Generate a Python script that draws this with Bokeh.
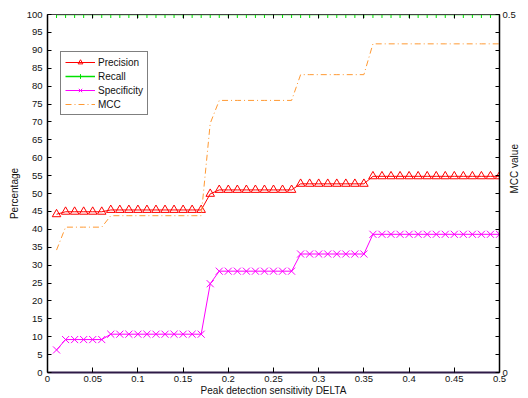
from bokeh.plotting import figure
from bokeh.models import (Range1d, LinearAxis, FixedTicker, CustomJSTickFormatter,
                          Legend, LegendItem)
from bokeh.embed import file_html
from bokeh.resources import INLINE

# Peak detection sensitivity (DELTA) grid
delta = [round(0.01 * k, 2) for k in range(1, 51)]

precision = [44.2, 44.9, 44.9, 44.9, 44.9, 44.9, 45.4, 45.4, 45.4, 45.4,
             45.4, 45.4, 45.4, 45.4, 45.4, 45.4, 45.4, 49.9, 51.0, 51.0,
             51.0, 51.0, 51.0, 51.0, 51.0, 51.0, 51.0, 52.7, 52.7, 52.7,
             52.7, 52.7, 52.7, 52.7, 52.7, 54.8, 54.8, 54.8, 54.8, 54.8,
             54.8, 54.8, 54.8, 54.8, 54.8, 54.8, 54.8, 54.8, 54.8, 54.8]

recall = [100.0] * 50

specificity = [6.3, 9.2, 9.2, 9.2, 9.2, 9.2, 10.7, 10.7, 10.7, 10.7,
               10.7, 10.7, 10.7, 10.7, 10.7, 10.7, 10.7, 24.8, 28.3, 28.3,
               28.3, 28.3, 28.3, 28.3, 28.3, 28.3, 28.3, 33.1, 33.1, 33.1,
               33.1, 33.1, 33.1, 33.1, 33.1, 38.6, 38.6, 38.6, 38.6, 38.6,
               38.6, 38.6, 38.6, 38.6, 38.6, 38.6, 38.6, 38.6, 38.6, 38.6]

mcc = [0.171, 0.203, 0.203, 0.203, 0.203, 0.203, 0.219, 0.219, 0.219, 0.219,
       0.219, 0.219, 0.219, 0.219, 0.219, 0.219, 0.219, 0.348, 0.380, 0.380,
       0.380, 0.380, 0.380, 0.380, 0.380, 0.380, 0.380, 0.416, 0.416, 0.416,
       0.416, 0.416, 0.416, 0.416, 0.416, 0.459, 0.459, 0.459, 0.459, 0.459,
       0.459, 0.459, 0.459, 0.459, 0.459, 0.459, 0.459, 0.459, 0.459, 0.459]

x_ticks = [0, 0.05, 0.1, 0.15, 0.2, 0.25, 0.3, 0.35, 0.4, 0.45, 0.5]
y_ticks = list(range(0, 101, 5))
mcc_ticks = [round(0.025 * k, 3) for k in range(0, 21)]

FONT = "Liberation Sans"
TXT = "#111111"

p = figure(width=528, height=398, output_backend="svg", toolbar_location=None,
           x_range=Range1d(0, 0.5), y_range=Range1d(0, 100),
           x_axis_location=None, y_axis_location=None,
           min_border_left=47, min_border_right=28,
           min_border_top=14, min_border_bottom=26)
p.extra_y_ranges = {"mcc": Range1d(0, 0.5)}
p.xgrid.visible = False
p.ygrid.visible = False
p.outline_line_color = None
p.background_fill_color = "white"
p.border_fill_color = "white"


def style_axis(ax, tick_in):
    ax.major_tick_in = tick_in
    ax.major_tick_out = 0
    ax.minor_tick_line_color = None
    ax.major_label_text_font = FONT
    ax.major_label_text_font_size = "9.5px"
    ax.major_label_text_color = TXT
    ax.axis_line_color = "#000000"
    ax.major_tick_line_color = "#000000"
    ax.axis_label_text_font = FONT
    ax.axis_label_text_font_size = "10px"
    ax.axis_label_text_font_style = "normal"
    ax.axis_label_text_color = TXT


bottom = LinearAxis(ticker=FixedTicker(ticks=x_ticks),
                    formatter=CustomJSTickFormatter(code="return Number(tick.toFixed(2)).toString();"),
                    axis_label="Peak detection sensitivity DELTA")
style_axis(bottom, 5)
bottom.axis_line_color = "#2e1a47"
bottom.axis_line_width = 2
bottom.major_label_standoff = 3
bottom.axis_label_standoff = 0
p.add_layout(bottom, "below")

top = LinearAxis(ticker=FixedTicker(ticks=x_ticks),
                 formatter=CustomJSTickFormatter(code="return '';"))
style_axis(top, 4)
top.axis_line_color = "#444444"
top.major_label_standoff = 0
top.major_label_text_font_size = "0px"
p.add_layout(top, "above")

left = LinearAxis(ticker=FixedTicker(ticks=y_ticks), axis_label="Percentage")
style_axis(left, 4)
left.axis_line_width = 1.5
left.major_label_standoff = 5
left.axis_label_standoff = 4
p.add_layout(left, "left")

right = LinearAxis(y_range_name="mcc", ticker=FixedTicker(ticks=mcc_ticks),
                   formatter=CustomJSTickFormatter(code="""
                       if (Math.abs(tick) < 1e-9) return '0';
                       if (Math.abs(tick - 0.5) < 1e-9) return '0.5';
                       return '';"""),
                   axis_label="MCC value")
style_axis(right, 4)
right.axis_line_width = 1.5
right.major_label_standoff = 3
right.axis_label_standoff = -4
right.axis_label_orientation = 1.5708
p.add_layout(right, "right")

# Percentage series
pr_l = p.line(delta, precision, line_color="#ff0000", line_width=1)
pr_m = p.scatter(delta, precision, marker="triangle", size=8.5,
                 line_color="#ff0000", fill_color=None, line_width=1)

re_l = p.line(delta, recall, line_color="#00e000", line_width=1.5)
re_m = p.scatter(delta, recall, marker="cross", size=7,
                 line_color="#00e000", line_width=1)

sp_l = p.line(delta, specificity, line_color="#ff00ff", line_width=1)
sp_m = p.scatter(delta, specificity, marker="x", size=10,
                 line_color="#ff00ff", line_width=1)

# MCC on the secondary axis
mc_l = p.line(delta, mcc, y_range_name="mcc", line_color="#ff9933",
              line_width=1, line_dash="6 3 1 3")

legend = Legend(items=[
    LegendItem(label="Precision", renderers=[pr_l, pr_m]),
    LegendItem(label="Recall", renderers=[re_l, re_m]),
    LegendItem(label="Specificity", renderers=[sp_l, sp_m]),
    LegendItem(label="MCC", renderers=[mc_l]),
], location=(13, 257))
legend.label_text_font = FONT
legend.label_text_font_size = "10px"
legend.label_text_color = TXT
legend.glyph_width = 30
legend.glyph_height = 12
legend.label_height = 12
legend.label_standoff = 3
legend.spacing = 2
legend.padding = 4
legend.margin = 0
legend.border_line_color = "#000000"
legend.border_line_width = 1
legend.background_fill_color = "white"
legend.background_fill_alpha = 1
p.add_layout(legend, "center")

open("out.html", "w").write(file_html(p, INLINE))
